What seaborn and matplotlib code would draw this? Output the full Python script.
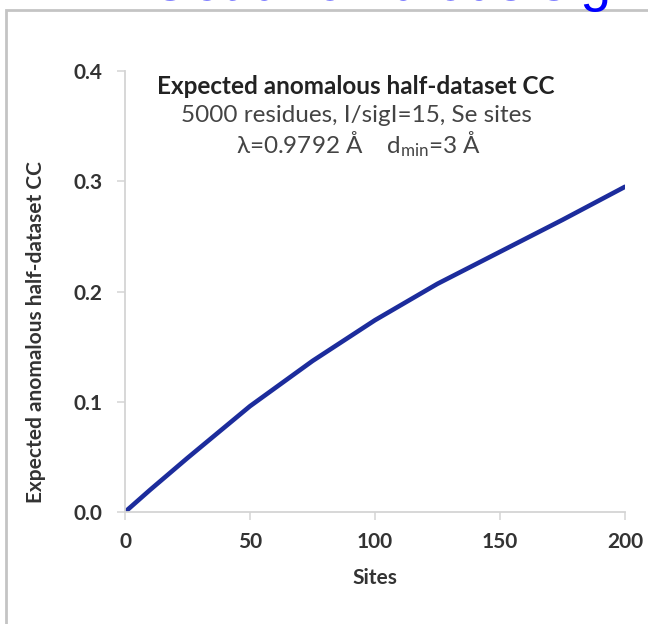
import matplotlib
matplotlib.use("Agg")
import matplotlib.pyplot as plt
import seaborn as sns
import pandas as pd
from matplotlib.patches import Rectangle

# Data
sites = [0, 10, 25, 50, 75, 100, 125, 150, 175, 200]
cc = [0.0, 0.020, 0.049, 0.096, 0.137, 0.174, 0.207, 0.236, 0.265, 0.295]
x_ticks = [0, 50, 100, 150, 200]
y_ticks = [0.0, 0.1, 0.2, 0.3, 0.4]
y_tick_labels = ["0.0", "0.1", "0.2", "0.3", "0.4"]

sns.set_style("white")
plt.rcParams["font.family"] = ["Lato", "DejaVu Sans"]
plt.rcParams["mathtext.default"] = "regular"

df = pd.DataFrame({"Sites": sites, "CC": cc})

fig = plt.figure(figsize=(6.48, 6.24), dpi=100)
ax = fig.add_axes([125 / 648, 1 - 512 / 624, 500 / 648, 441 / 624])

sns.lineplot(data=df, x="Sites", y="CC", ax=ax, color="#1c2c9c", linewidth=3.3)

ax.set_xlim(0, 200)
ax.set_ylim(0, 0.4)
ax.set_xticks(x_ticks)
ax.set_yticks(y_ticks)
ax.set_yticklabels(y_tick_labels)

for s in ["top", "right"]:
    ax.spines[s].set_visible(False)
for s in ["left", "bottom"]:
    ax.spines[s].set_color("#d4d4d4")
    ax.spines[s].set_linewidth(1.3)

ax.tick_params(axis="both", which="major", direction="out", length=5.5, width=1.1,
               color="#d4d4d4", labelsize=15, labelcolor="#333333")
ax.tick_params(axis="y", left=True, pad=10.5)
ax.tick_params(axis="x", bottom=True, pad=9)
for lab in ax.get_xticklabels() + ax.get_yticklabels():
    lab.set_fontweight("bold")

ax.set_xlabel("Sites", fontsize=15, fontweight="bold", color="#333333")
ax.set_ylabel("Expected anomalous half-dataset CC", fontsize=15, fontweight="bold",
              color="#333333")
ax.xaxis.set_label_coords(0.5, -0.128)
ax.yaxis.set_label_coords(-0.158, 0.408)

ax.text(0.462, 0.964, "Expected anomalous half-dataset CC", transform=ax.transAxes,
        ha="center", va="center", fontsize=17.5, fontweight="bold", color="#222222")
ax.text(0.462, 0.898, "5000 residues, I/sigI=15, Se sites", transform=ax.transAxes,
        ha="center", va="center", fontsize=17.5, color="#444444")
ax.text(0.468, 0.833, "λ=0.9792 Å    d$_{min}$=3 Å", transform=ax.transAxes,
        ha="center", va="center", fontsize=17.5, color="#444444")

# outer slide frame
fig.patches.append(Rectangle((6 / 648, -0.05), 1.2, 1.05 - 9.5 / 624, transform=fig.transFigure,
                             fill=False, edgecolor="#c4c4c4", linewidth=2.0, zorder=0))

# cut-off slide heading
fig.text(148 / 648, 1 - 0.5 / 624, "Get anomalous signal", ha="left", va="baseline",
         fontsize=40, color="#0000ff", family="Liberation Sans", zorder=5)

fig.savefig("out.png", dpi=100)
